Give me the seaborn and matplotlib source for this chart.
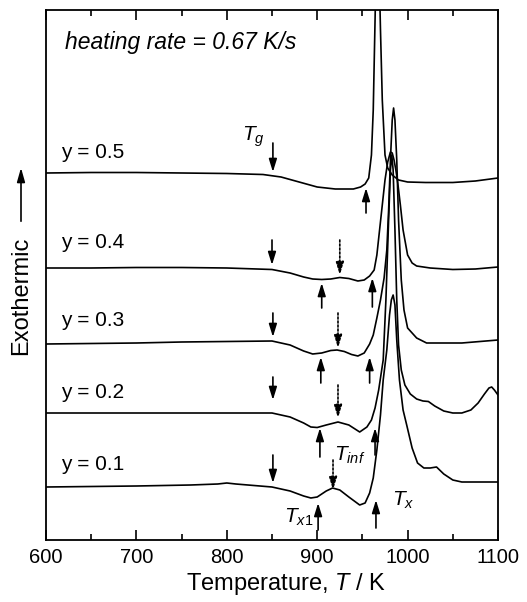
import numpy as np
import pandas as pd
import matplotlib
matplotlib.use("Agg")
import matplotlib.pyplot as plt
import seaborn as sns

# DSC curves (T in K, signal in arbitrary units, offset per curve)
T_05 = [600, 650, 700, 750, 800, 840, 860, 880, 900, 920, 940, 948, 953, 957, 960, 962, 964, 966, 968, 970, 972, 975, 978, 983, 990, 1000, 1020, 1050, 1075, 1100]
s_05 = [367, 367.5, 367.5, 367, 366.5, 365.5, 363, 358, 353, 351, 351, 353, 356, 362, 385, 430, 520, 610, 590, 510, 440, 385, 372, 365, 360, 358, 357.5, 357.5, 359, 362]

T_04 = [600, 650, 700, 750, 800, 850, 870, 885, 895, 905, 915, 925, 935, 945, 952, 958, 963, 966, 969, 972, 975, 978, 981, 983, 985, 987, 989, 992, 995, 1000, 1005, 1010, 1025, 1050, 1075, 1100]
s_04 = [272, 272, 272.5, 272.5, 272, 270.5, 267, 263, 261, 260.5, 261, 262.5, 261.5, 259, 260, 264, 270, 285, 310, 335, 360, 378, 388, 387, 380, 370, 358, 335, 310, 285, 277, 274, 272, 270.5, 271, 273]

T_03 = [600, 650, 700, 750, 800, 850, 870, 885, 895, 905, 915, 922, 930, 938, 945, 952, 958, 962, 966, 970, 974, 977, 979, 981, 983, 984.5, 986, 988, 990, 993, 996, 1000, 1010, 1021, 1060, 1100]
s_03 = [196, 196.5, 197, 198, 198.5, 199, 195, 189, 186, 187, 189.5, 190, 188.5, 185.5, 184, 187, 196, 205, 222, 240, 262, 290, 330, 380, 420, 432, 420, 380, 320, 260, 230, 212, 202, 197, 197, 200]

T_02 = [600, 700, 800, 850, 870, 885, 893, 900, 910, 923, 935, 947, 955, 960, 964, 968, 973, 976, 979, 981, 982.5, 984, 986, 988, 990, 993, 997, 1003, 1010, 1017, 1023, 1030, 1040, 1050, 1060, 1070, 1078, 1085, 1090, 1093, 1096, 1100]
s_02 = [127, 127, 127, 127, 123, 117, 113, 112.5, 115, 118, 115, 108, 113, 120, 132, 150, 180, 240, 320, 370, 385, 370, 310, 240, 195, 170, 155, 146, 141, 139, 138.5, 134, 129, 127, 127, 130, 137, 146, 152, 153, 150, 145]

T_01 = [600, 700, 760, 790, 800, 810, 850, 870, 885, 893, 900, 910, 917, 925, 935, 947, 953, 958, 962, 966, 970, 973, 977, 980, 982, 984, 986, 988, 991, 995, 999, 1005, 1011, 1018, 1025, 1032, 1040, 1050, 1060, 1080, 1100]
s_01 = [53, 54, 55, 56, 57, 56, 53, 49, 44, 42, 43, 49, 52, 50, 43, 35, 37, 47, 62, 90, 125, 160, 190, 225, 240, 245, 235, 200, 160, 130, 115, 92, 77, 72, 72, 73, 66, 60, 58, 58, 58]

curve_names = ["y = 0.5", "y = 0.4", "y = 0.3", "y = 0.2", "y = 0.1"]
curve_T = [T_05, T_04, T_03, T_02, T_01]
curve_s = [s_05, s_04, s_03, s_02, s_01]
label_pos_s = [387, 298, 220, 148, 75]

# arrows: (T, tail, head)
tg_arrows = [(851, 397, 368), (850, 300, 275), (851, 227, 203), (851, 163, 140), (851, 85, 57)]
tx1_arrows = [(905, 232, 257), (904, 157, 183), (903, 83, 112), (901, 10, 37)]
tinf_arrows = [(925, 300, 265), (923, 227, 192), (923, 155, 122), (917.5, 80, 50)]
tx_arrows = [(954, 327, 352), (961, 233, 262), (958, 157, 183), (964, 85, 112), (965, 12, 40)]

sns.set_theme(style="ticks")
plt.rcParams["font.family"] = ["Liberation Sans", "DejaVu Sans"]
plt.rcParams["mathtext.fontset"] = "custom"
plt.rcParams["mathtext.rm"] = "Liberation Sans"
plt.rcParams["mathtext.it"] = "Liberation Sans:italic"
plt.rcParams["text.color"] = "black"
plt.rcParams["xtick.color"] = "black"
plt.rcParams["axes.labelcolor"] = "black"

fig = plt.figure(figsize=(5.27, 6.02), dpi=100)
ax = fig.add_axes([46 / 527, 62 / 602, 452 / 527, 530 / 602])

for T, s in zip(curve_T, curve_s):
    sns.lineplot(x=T, y=s, color="black", lw=1.2, ax=ax, sort=False, estimator=None)

for name, ys in zip(curve_names, label_pos_s):
    ax.text(617, ys, name, fontsize=15, ha="left", va="center")


def arrow(T, tail, head, dotted=False):
    props = dict(arrowstyle="-|>,head_length=0.55,head_width=0.17", color="black", lw=1.2,
                 shrinkA=0, shrinkB=0, mutation_scale=14)
    if dotted:
        props["linestyle"] = (0, (1.2, 1.2))
    ax.annotate("", xy=(T, head), xytext=(T, tail), arrowprops=props)


for a in tg_arrows + tx1_arrows + tx_arrows:
    arrow(*a)
for a in tinf_arrows:
    arrow(*a, dotted=True)

ax.text(621, 497, "heating rate = 0.67 K/s", fontsize=16.5, style="italic", ha="left", va="center")
ax.text(817, 403, "$T_g$", fontsize=15, ha="left", va="center")
ax.text(863, 23, "$T_{x1}$", fontsize=15, ha="left", va="center")
ax.text(919, 85, "$T_{inf}$", fontsize=15, ha="left", va="center")
ax.text(983, 40, "$T_x$", fontsize=15, ha="left", va="center")

ax.set_xlim(600, 1100)
ax.set_ylim(0, 530)
ax.set_xticks([600, 700, 800, 900, 1000, 1100])
ax.set_xticks(np.arange(650, 1100, 100), minor=True)
ax.set_yticks([])
ax.tick_params(axis="x", which="major", direction="in", length=7, width=1.2, top=True, labelsize=14.5, pad=6)
ax.tick_params(axis="x", which="minor", direction="in", length=4, width=1.2, top=True)
for sp in ax.spines.values():
    sp.set_visible(True)
    sp.set_linewidth(1.3)
    sp.set_color("black")
ax.set_xlabel("")
ax.set_ylabel("")

fig.text(286 / 527, 1 - 584 / 602, "Temperature, $T$ / K", fontsize=17, ha="center", va="center")
fig.text(21 / 527, 1 - 296 / 602, "Exothermic", fontsize=17, rotation=90, ha="center", va="center")
fig.add_artist(matplotlib.patches.FancyArrowPatch((21 / 527, 1 - 224 / 602), (21 / 527, 1 - 165 / 602),
               transform=fig.transFigure, arrowstyle="-|>,head_length=0.6,head_width=0.17",
               mutation_scale=14, color="black", lw=1.2))

fig.savefig("out.png", dpi=100)
